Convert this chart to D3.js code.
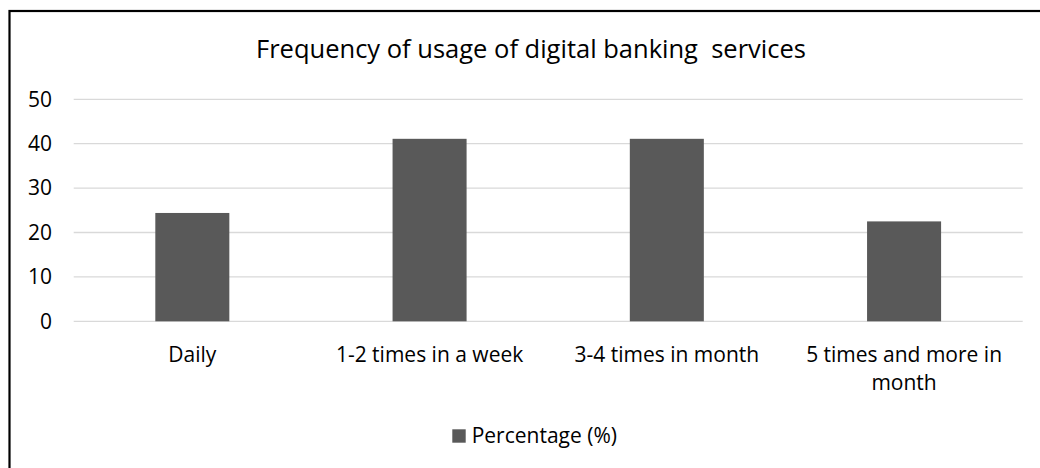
<!DOCTYPE html>
<html>
<head>
<meta charset="utf-8">
<script src="https://cdn.jsdelivr.net/npm/d3@7"></script>
<style>
  html, body { margin: 0; padding: 0; background: #fff; }
  svg { display: block; }
  text { font-family: "Open Sans", sans-serif; fill: #000; }
</style>
</head>
<body>
<svg id="chart" width="1040" height="468"></svg>
<script>
// Chart content
const chartTitle = "Frequency of usage of digital banking  services";
const categories = ["Daily", "1-2 times in a week", "3-4 times in month", "5 times and more in month"];
const percentages = [24.4, 41.1, 41.1, 22.5];
const yTicks = [0, 10, 20, 30, 40, 50];
const seriesName = "Percentage (%)";

const W = 1040, H = 468;
const plot = { left: 73.7, right: 1022.7, top: 99.3, bottom: 321.3 };
const barColor = "#595959";
const FONT = "'Open Sans', sans-serif";
const LABEL_SIZE = 21;

const svg = d3.select("#chart");

svg.append("rect").attr("width", W).attr("height", H).attr("fill", "#fff");

// Chart frame (runs past the right and bottom edges)
svg.append("rect")
  .attr("x", 9.5).attr("y", 11)
  .attr("width", W + 20).attr("height", H + 20)
  .attr("fill", "none").attr("stroke", "#000").attr("stroke-width", 2.2);

const x = d3.scaleBand()
  .domain(categories)
  .range([plot.left, plot.right])
  .paddingInner(0.688)
  .paddingOuter(0.344);

const y = d3.scaleLinear().domain([0, 50]).range([plot.bottom, plot.top]);

// Title
svg.append("text")
  .attr("x", 531).attr("y", 58.3)
  .attr("text-anchor", "middle")
  .attr("xml:space", "preserve")
  .style("white-space", "pre")
  .style("font-size", "25.5px")
  .text(chartTitle);

// Gridlines
svg.append("g")
  .selectAll("line")
  .data(yTicks)
  .join("line")
  .attr("x1", plot.left).attr("x2", plot.right)
  .attr("y1", d => y(d)).attr("y2", d => y(d))
  .attr("stroke", "#d9d9d9").attr("stroke-width", 1.3);

// Y axis labels
const yAxis = d3.axisLeft(y).tickValues(yTicks).tickSize(0).tickPadding(0);
const yg = svg.append("g").attr("transform", "translate(52,0)").call(yAxis);
yg.select(".domain").remove();
yg.attr("font-family", FONT).attr("font-size", LABEL_SIZE);
yg.selectAll("text").attr("fill", "#000");

// Bars
svg.append("g")
  .selectAll("rect")
  .data(categories.map((c, i) => ({ c, v: percentages[i] })))
  .join("rect")
  .attr("x", d => x(d.c))
  .attr("width", x.bandwidth())
  .attr("y", d => y(d.v))
  .attr("height", d => y(0) - y(d.v))
  .attr("fill", barColor);

// Category labels, wrapped within the band
const maxLabelWidth = 220;
const catLabels = svg.append("g")
  .selectAll("text")
  .data(categories)
  .join("text")
  .attr("x", d => x(d) + x.bandwidth() / 2)
  .attr("y", 362)
  .attr("text-anchor", "middle")
  .style("font-size", LABEL_SIZE + "px");

catLabels.each(function(d) {
  const t = d3.select(this);
  const words = d.split(" ");
  let line = [];
  let tspan = t.append("tspan").attr("x", t.attr("x")).attr("dy", 0);
  words.forEach(w => {
    line.push(w);
    tspan.text(line.join(" "));
    if (tspan.node().getComputedTextLength() > maxLabelWidth && line.length > 1) {
      line.pop();
      tspan.text(line.join(" "));
      line = [w];
      tspan = t.append("tspan").attr("x", t.attr("x")).attr("dy", 28).text(w);
    }
  });
});

// Legend
const legend = svg.append("g");
legend.append("rect")
  .attr("x", 452.3).attr("y", 429.3)
  .attr("width", 13.4).attr("height", 13.4)
  .attr("fill", barColor);
legend.append("text")
  .attr("x", 471.7).attr("y", 442.7)
  .style("font-size", LABEL_SIZE + "px")
  .text(seriesName);
</script>
</body>
</html>
